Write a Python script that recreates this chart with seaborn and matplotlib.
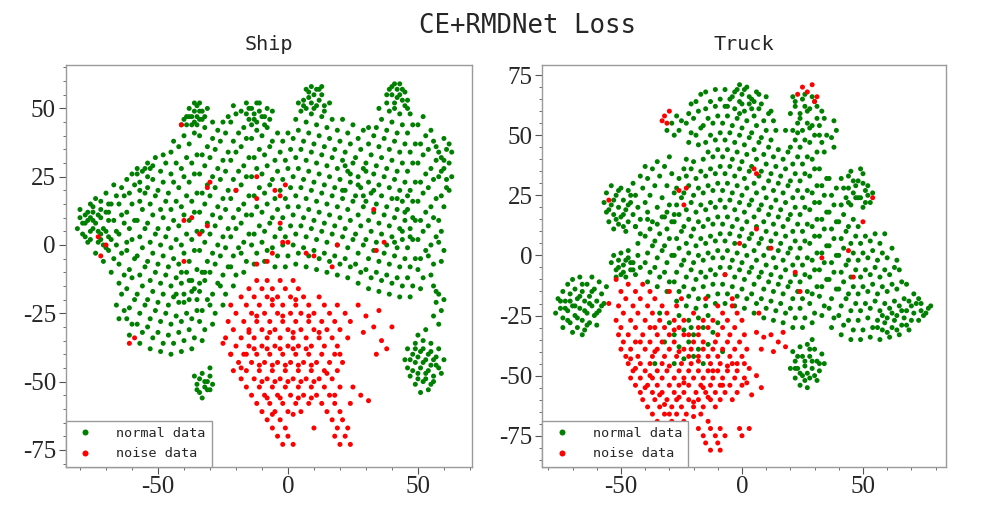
import matplotlib
matplotlib.use("Agg")
import matplotlib.pyplot as plt
from matplotlib.ticker import MultipleLocator
import seaborn as sns
import pandas as pd

# ---------------- data (t-SNE coordinates) ----------------
title_main = "CE+RMDNet Loss"
panel_titles = ["Ship", "Truck"]
labels = ["normal data", "noise data"]
colors = {"normal data": "green", "noise data": "red"}

ship_normal = [
    (-81,6),(-80,10),(-79,4),(-80,13),(-78,8),
    (-77,1),(-76,5),(-78,3),(-77,9),(-75,12),(-78,11),(-76,15),
    (-74,-3),(-73,1),(-75,6),(-74,8),(-72,4),(-73,11),(-75,14),(-74,17),(-72,13),
    (-71,-6),(-70,-1),(-72,2),(-71,6),(-69,9),(-70,12),(-72,16),(-70,19),(-69,3),
    (-68,-10),(-67,-5),(-69,-2),(-68,2),(-66,5),(-67,9),(-69,12),(-68,15),(-66,18),(-67,22),(-66,0),
    (-65,-27),(-63,-24),(-66,-22),(-64,-18),(-65,-14),(-63,-11),(-65,-7),(-64,-3),(-62,1),(-65,4),(-63,8),(-64,11),(-65,15),(-63,18),(-64,21),(-62,24),
    (-61,-33),(-60,-29),(-62,-27),(-61,-23),(-59,-20),(-62,-16),(-60,-12),(-61,-9),(-59,-5),(-62,-2),(-60,2),(-61,6),(-59,9),(-62,12),(-60,15),(-61,19),(-59,22),(-60,26),(-58,28),
    (-57,-36),(-56,-32),(-58,-29),(-57,-25),(-55,-22),(-58,-18),(-56,-15),(-57,-11),(-55,-8),(-58,-4),(-56,-1),(-57,3),(-55,6),(-58,9),(-56,13),(-57,16),(-55,19),(-57,23),(-56,27),(-54,30),
    (-53,-38),(-52,-34),(-54,-30),(-53,-27),(-51,-24),(-54,-20),(-52,-17),(-53,-13),(-51,-10),(-54,-6),(-52,-3),(-53,1),(-51,4),(-54,8),(-52,11),(-53,15),(-51,18),(-54,21),(-52,24),(-53,28),(-51,32),
    (-49,-39),(-48,-36),(-50,-32),(-49,-28),(-47,-25),(-50,-21),(-48,-18),(-49,-14),(-47,-11),(-50,-7),(-48,-4),(-49,0),(-47,3),(-50,6),(-48,10),(-49,13),(-47,16),(-50,20),(-48,23),(-49,27),(-47,30),(-48,33),
    (-45,-40),(-44,-36),(-46,-33),(-45,-29),(-43,-26),(-46,-22),(-44,-19),(-45,-15),(-43,-12),(-46,-8),(-44,-5),(-45,-1),(-43,2),(-46,6),(-44,9),(-45,13),(-43,16),(-46,19),(-44,23),(-45,26),(-43,30),(-45,34),(-44,38),
    (-41,-39),(-40,-35),(-42,-32),(-41,-28),(-39,-25),(-42,-21),(-40,-18),(-41,-14),(-39,-10),(-42,-7),(-40,-3),(-41,0),(-39,4),(-42,7),(-40,11),(-41,14),(-39,18),(-42,21),(-40,25),(-41,28),(-39,32),(-42,36),(-40,40),(-41,44),(-39,47),
    (-37,-38),(-36,-34),(-38,-31),(-37,-27),(-35,-24),(-38,-20),(-36,-16),(-37,-13),(-35,-9),(-38,-6),(-36,-2),(-37,2),(-35,5),(-38,9),(-36,12),(-37,16),(-35,19),(-38,23),(-36,26),(-37,30),(-35,33),(-38,37),(-36,41),(-37,44),(-35,47),(-38,50),(-36,52),(-34,49),
    (-33,-35),(-32,-31),(-34,-28),(-33,-24),(-31,-20),(-34,-17),(-32,-13),(-33,-10),(-31,-6),(-34,-2),(-32,1),(-33,5),(-31,8),(-34,12),(-32,15),(-33,19),(-31,22),(-34,26),(-32,29),(-33,33),(-31,36),(-34,40),(-32,43),(-33,46),(-31,50),(-35,44),
    (-29,-29),(-28,-25),(-30,-22),(-29,-18),(-27,-14),(-30,-10),(-28,-7),(-29,-3),(-27,0),(-30,4),(-28,7),(-29,11),(-27,14),(-30,18),(-28,21),(-29,25),(-27,28),(-30,32),(-28,35),(-29,39),(-27,42),(-29,45),
    (-25,-22),(-24,-18),(-26,-15),(-25,-11),(-23,-8),(-26,-4),(-24,-1),(-25,3),(-23,6),(-26,10),(-24,13),(-25,17),(-23,20),(-26,24),(-24,27),(-25,31),(-23,34),(-26,38),(-24,41),(-25,45),(-23,47),
    (-21,-15),(-20,-11),(-22,-8),(-21,-4),(-19,-1),(-22,3),(-20,6),(-21,10),(-19,13),(-22,17),(-20,20),(-21,24),(-19,27),(-22,31),(-20,34),(-21,38),(-19,41),(-22,45),(-20,48),(-21,51),
    (-17,-10),(-16,-6),(-18,-3),(-17,1),(-15,4),(-18,8),(-16,11),(-17,15),(-15,18),(-18,22),(-16,25),(-17,29),(-15,32),(-18,36),(-16,39),(-17,43),(-15,46),(-18,49),(-16,52),(-14,50),
    (-13,-7),(-12,-3),(-14,0),(-13,4),(-11,7),(-14,11),(-12,14),(-13,18),(-11,21),(-14,25),(-12,28),(-13,32),(-11,35),(-14,39),(-12,42),(-13,46),(-11,49),(-12,52),
    (-9,-6),(-8,-2),(-10,1),(-9,5),(-7,8),(-10,12),(-8,15),(-9,19),(-7,22),(-10,26),(-8,29),(-9,33),(-7,36),(-10,40),(-8,43),(-9,47),
    (-5,-8),(-4,-4),(-6,-1),(-5,3),(-3,6),(-6,10),(-4,13),(-5,17),(-3,20),(-6,24),(-4,27),(-5,31),(-3,34),(-6,38),(-4,41),
    (-1,-8),(0,-4),(-2,0),(-1,3),(1,7),(-2,10),(0,14),(-1,17),(1,21),(-2,24),(0,28),(-1,31),(1,35),(-2,38),(0,41),
    (3,-7),(4,-3),(2,0),(3,4),(5,7),(2,11),(4,14),(3,18),(5,21),(2,25),(4,28),(3,32),(5,35),(2,39),(4,42),(3,46),(5,49),(4,52),
    (7,-8),(8,-4),(6,-1),(7,3),(9,6),(6,10),(8,13),(7,17),(9,20),(6,24),(8,27),(7,31),(9,34),(6,38),(8,41),(7,45),(9,48),(6,51),(8,54),(7,57),
    (11,-9),(12,-5),(10,-2),(11,2),(13,5),(10,9),(12,12),(11,16),(13,19),(10,23),(12,26),(11,30),(13,33),(10,37),(12,40),(11,44),(13,47),(10,50),(12,53),(11,57),(13,55),
    (15,-10),(16,-6),(14,-3),(15,1),(17,4),(14,8),(16,11),(15,15),(17,18),(14,22),(16,25),(15,29),(17,32),(14,36),(16,39),(15,43),(17,46),(14,49),(16,52),
    (19,-11),(20,-7),(18,-4),(19,0),(21,3),(18,7),(20,10),(19,14),(21,17),(18,21),(20,24),(19,28),(21,31),(18,35),(20,38),(19,42),(21,46),
    (23,-12),(24,-8),(22,-5),(23,-1),(25,2),(22,6),(24,9),(23,13),(25,16),(22,20),(24,23),(23,27),(25,30),(22,34),(24,37),(23,41),(25,44),
    (27,-14),(28,-10),(26,-7),(27,-3),(29,0),(26,4),(28,7),(27,11),(29,14),(26,18),(28,21),(27,25),(29,28),(26,32),(28,35),(27,39),(29,42),
    (31,-16),(32,-12),(30,-9),(31,-5),(33,-2),(30,2),(32,5),(31,9),(33,12),(30,16),(32,19),(31,23),(33,26),(30,30),(32,33),(31,37),(33,40),(31,43),
    (35,-17),(36,-13),(34,-10),(35,-6),(37,-3),(34,1),(36,4),(35,8),(37,11),(34,15),(36,18),(35,22),(37,25),(34,29),(36,32),(35,36),(37,39),(34,43),(36,46),(35,50),
    (39,-18),(40,-14),(38,-11),(39,-7),(41,-4),(38,0),(40,3),(39,7),(41,10),(38,14),(40,17),(39,21),(41,24),(38,28),(40,31),(39,35),(41,38),(38,42),(40,45),(39,49),(41,52),(38,55),(40,58),
    (43,-19),(44,-15),(42,-12),(43,-8),(45,-5),(42,-1),(44,2),(43,6),(45,9),(42,13),(44,16),(43,20),(45,23),(42,27),(44,30),(43,34),(45,37),(42,41),(44,44),(43,48),(45,51),(42,54),(44,57),(43,59),
    (47,-19),(48,-15),(46,-12),(47,-8),(49,-5),(46,-1),(48,2),(47,6),(49,9),(46,13),(48,16),(47,20),(49,23),(46,27),(48,30),(47,34),(49,37),(46,41),(48,44),(47,48),(46,53),
    (51,-16),(52,-12),(50,-9),(51,-5),(53,-2),(50,2),(52,5),(51,9),(53,12),(50,16),(52,19),(51,23),(53,26),(50,30),(52,33),(51,37),(53,40),(50,44),(52,47),
    (55,-11),(56,-7),(54,-4),(55,0),(57,3),(54,7),(56,10),(55,14),(57,17),(54,21),(56,24),(55,28),(57,31),(54,35),(56,38),(55,42),
    (59,-6),(60,-2),(58,1),(59,5),(58,9),(60,14),(59,18),(61,21),(58,25),(60,28),(59,32),(61,35),(60,39),
    (62,20),(63,25),(62,30),(63,34),
    (56,-15),(58,-18),(57,-21),(59,-24),(56,-26),(58,-29),(60,-20),(57,-17),
    (46,-38),(49,-36),(52,-35),(55,-36),(58,-38),(45,-42),(48,-40),(51,-39),(54,-40),(57,-41),(60,-42),
    (46,-45),(49,-43),(52,-43),(55,-44),(58,-45),(47,-48),(50,-47),(53,-47),(56,-48),(59,-47),
    (49,-51),(52,-50),(55,-51),(51,-54),(54,-53),(50,-33),(53,-31),
    (-36,-48),(-33,-47),(-30,-48),(-35,-51),(-32,-50),(-29,-51),(-34,-54),(-31,-53),(-33,-56),(-30,-45),
    # denser clumps
    (-79,8),(-77,12),(-76,2),(-75,9),(-73,5),(-72,10),(-71,0),(-70,5),(-69,15),(-76,10),
    (-39,44),(-37,47),(-36,49),(-35,51),(-34,46),(-33,49),(-32,47),(-36,45),(-38,47),(-34,52),(-40,46),
    (-15,50),(-13,48),(-11,52),(-10,47),(-14,44),(-8,50),(-9,44),(-12,45),(-16,48),(-7,46),(-6,49),
    (8,56),(9,52),(10,55),(12,57),(14,51),(6,53),(11,51),(13,58),(9,58),(7,50),
    (40,55),(42,57),(41,50),(44,53),(39,57),(43,55),(45,56),(46,50),(38,52),(41,59),
    (58,34),(60,31),(59,27),(61,24),(62,37),(57,36),
    (47,-42),(50,-41),(53,-42),(56,-42),(48,-46),(51,-45),(54,-46),(57,-44),(50,-49),(53,-49),(56,-50),(52,-38),(55,-39),(49,-38),
    (-34,-49),(-31,-50),(-32,-52),(-35,-53),(-30,-53),
    (-58,26),(-55,28),(-52,29),(-57,20),(-54,25),
    (-43,-18),(-40,-21),(-37,-17),(-34,-14),(-41,-10),(-38,-13),(-35,-20),(-32,-10),
    (21,20),(24,26),(27,22),(30,27),(33,20),(22,29),(29,18),
    (41,1),(44,5),(47,3),(45,12),(48,10),(42,17),(46,18),
]

ship_noise = [
    (-12,-13),(-8,-13),(-3,-13),(2,-13),
    (-15,-16),(-10,-16),(-6,-16),(-1,-16),(4,-16),
    (-18,-19),(-13,-19),(-8,-19),(-4,-19),(1,-19),(6,-19),(12,-19),
    (-22,-22),(-16,-22),(-11,-22),(-6,-22),(-2,-22),(3,-22),(8,-22),(14,-22),(19,-22),
    (-20,-25),(-14,-25),(-9,-25),(-4,-25),(1,-25),(5,-25),(10,-25),(16,-25),(22,-25),
    (-23,-28),(-17,-28),(-12,-28),(-7,-28),(-2,-28),(3,-28),(8,-28),(13,-28),(18,-28),(24,-28),
    (-21,-31),(-15,-31),(-10,-31),(-5,-31),(0,-31),(5,-31),(10,-31),(15,-31),(20,-31),
    (-24,-34),(-18,-34),(-13,-34),(-8,-34),(-3,-34),(2,-34),(7,-34),(12,-34),(17,-34),(23,-34),
    (-20,-37),(-15,-37),(-10,-37),(-5,-37),(0,-37),(4,-37),(9,-37),(14,-37),(19,-37),
    (-22,-40),(-17,-40),(-12,-40),(-7,-40),(-2,-40),(3,-40),(8,-40),(13,-40),(18,-40),
    (-19,-43),(-14,-43),(-9,-43),(-4,-43),(1,-43),(6,-43),(11,-43),(16,-43),(21,-43),
    (-21,-46),(-16,-46),(-11,-46),(-6,-46),(-1,-46),(4,-46),(9,-46),(14,-46),(19,-46),
    (-18,-49),(-13,-49),(-8,-49),(-3,-49),(2,-49),(7,-49),(12,-49),(17,-49),
    (-16,-52),(-11,-52),(-6,-52),(-1,-52),(4,-52),(9,-52),(14,-52),(20,-52),
    (-14,-55),(-9,-55),(-4,-55),(1,-55),(6,-55),(11,-55),(16,-55),
    (-12,-58),(-7,-58),(-2,-58),(3,-58),(8,-58),(13,-58),(18,-58),
    (-10,-61),(-5,-61),(0,-61),(5,-61),(15,-61),(20,-61),
    (-8,-64),(-3,-64),(17,-64),(21,-64),
    (-6,-67),(-1,-67),(10,-67),(19,-67),(23,-67),
    (-4,-70),(0,-70),(18,-70),(22,-70),
    (-2,-73),(2,-73),(20,-73),(24,-73),
    (27,-22),(30,-26),(33,-30),(35,-24),(29,-32),(36,-35),(34,-40),(38,-38),(40,-30),
    (25,-52),(28,-55),(31,-57),(24,-58),(-25,-36),(-22,-40),
    (-61,-36),(-59,-34),(-73,3),(-70,0),(-72,-4),
    (-41,44),(-30,23),(-31,21),(-20,20),(-12,25),(-12,17),(-40,9),(-37,10),(-31,7),(-34,4),
    (-40,-6),(-12,-7),(-8,-6),(-5,20),(-1,22),(-3,18),(-3,8),(33,13),(-2,1),(0,1),
    (19,0),(37,1),(34,-2),(-6,-3),(7,-3),(10,-4),(17,-8),
    # denser core
    (-13,-38),(-8,-38),(-3,-38),(2,-38),(7,-38),(-11,-44),(-6,-44),(-1,-44),(4,-44),(9,-44),
    (-10,-50),(-5,-50),(0,-50),(5,-50),(10,-50),(-15,-32),(-7,-32),(2,-32),(12,-32),
    (-12,-26),(-2,-26),(8,-26),(-6,-20),(3,-20),(-8,-56),(-3,-56),(4,-56),(9,-56),
    (-6,-62),(2,-62),(18,-55),(15,-47),(20,-40),(-18,-45),(-16,-40),
]

truck_normal = [
    (-76,-18),(-75,-22),(-74,-15),(-74,-26),(-73,-19),(-72,-23),(-72,-12),(-71,-28),(-71,-16),(-70,-21),
    (-70,-10),(-69,-25),(-69,-14),(-68,-30),(-68,-18),(-67,-22),(-67,-9),(-66,-27),(-66,-15),(-65,-19),
    (-65,-31),(-64,-24),(-64,-12),(-63,-17),(-63,-28),(-62,-21),(-62,-9),(-61,-14),(-61,-25),(-60,-19),
    (-59,-11),(-59,-23),(-58,-16),(-57,-20),(-56,-13),(-74,-30),(-77,-24),(-66,-33),(-60,-29),(-70,-32),
    (-54,-3),(-53,0),(-52,-6),(-51,-2),(-50,-8),(-50,1),(-49,-4),(-48,-9),(-47,-1),(-46,-6),
    (-45,-3),(-44,-8),(-43,0),(-42,-5),(-52,-9),(-47,2),
    (-57,22),(-56,18),(-56,26),(-55,14),(-54,21),(-54,29),(-53,11),(-53,17),(-52,25),(-51,20),
    (-51,13),(-50,28),(-50,16),(-49,23),(-48,10),(-48,19),(-47,27),(-47,14),(-46,22),(-45,17),
    (-45,30),(-44,12),(-44,25),(-43,20),(-42,33),(-42,15),(-41,28),(-40,22),(-40,37),(-39,18),
    (-39,32),(-38,25),(-37,14),(-37,36),(-36,29),(-35,20),(-35,39),(-34,33),(-33,24),(-32,16),
    (-32,37),(-31,29),(-30,21),(-30,41),(-29,34),(-28,26),(-28,17),
    (-43,5),(-42,9),(-44,12),
    (-39,-11),(-38,-7),(-40,-3),(-39,1),(-37,4),(-40,8),(-38,11),(-39,15),
    (-35,-13),(-34,-9),(-36,-5),(-35,-1),(-33,2),(-36,6),(-34,9),(-35,13),(-33,16),
    (-31,-15),(-30,-11),(-32,-7),(-31,-3),(-29,0),(-32,4),(-30,7),(-31,11),(-29,14),(-31,18),
    (-27,-19),(-26,-15),(-28,-11),(-27,-7),(-25,-4),(-28,0),(-26,3),(-27,7),(-25,10),(-28,14),
    (-26,17),(-27,21),(-25,24),(-27,28),(-26,32),(-24,36),
    (-23,-21),(-22,-17),(-24,-13),(-23,-9),(-21,-6),(-24,-2),(-22,1),(-23,5),(-21,8),(-24,12),
    (-22,15),(-23,19),(-21,22),(-24,26),(-22,29),(-23,33),(-21,36),(-23,40),(-22,47),(-21,51),
    (-23,55),(-22,59),(-21,63),(-26,52),(-29,55),(-27,58),(-31,52),(-25,56),(-28,50),
    (-19,-22),(-18,-18),(-20,-14),(-19,-10),(-17,-7),(-20,-3),(-18,0),(-19,4),(-17,7),(-20,11),
    (-18,14),(-19,18),(-17,21),(-20,25),(-18,28),(-19,32),(-17,35),(-20,39),(-18,46),(-19,50),
    (-17,53),(-20,57),(-18,60),(-19,64),(-17,67),
    (-15,-21),(-14,-17),(-16,-13),(-15,-9),(-13,-6),(-16,-2),(-14,1),(-15,5),(-13,8),(-16,12),
    (-14,15),(-15,19),(-13,22),(-16,26),(-14,29),(-15,33),(-13,36),(-16,40),(-14,43),(-15,47),
    (-13,50),(-16,54),(-14,57),(-15,61),(-13,64),(-15,68),
    (-11,-20),(-10,-16),(-12,-12),(-11,-8),(-9,-5),(-12,-1),(-10,2),(-11,6),(-9,9),(-12,13),
    (-10,16),(-11,20),(-9,23),(-12,27),(-10,30),(-11,34),(-9,37),(-12,41),(-10,44),(-11,48),
    (-9,51),(-12,55),(-10,58),(-11,62),(-9,65),(-11,69),
    (-7,-20),(-6,-16),(-8,-12),(-7,-8),(-5,-5),(-8,-1),(-6,2),(-7,6),(-5,9),(-8,13),
    (-6,16),(-7,20),(-5,23),(-8,27),(-6,30),(-7,34),(-5,37),(-8,41),(-6,44),(-7,48),
    (-5,51),(-8,55),(-6,58),(-7,62),(-5,65),(-7,69),
    (-3,-21),(-2,-17),(-4,-13),(-3,-9),(-1,-6),(-4,-2),(-2,1),(-3,5),(-1,8),(-4,12),
    (-2,15),(-3,19),(-1,22),(-4,26),(-2,29),(-3,33),(-1,36),(-4,40),(-2,43),(-3,47),
    (-1,50),(-4,54),(-2,57),(-3,61),(-1,64),(-3,68),(-1,71),
    (1,-22),(2,-18),(0,-14),(1,-10),(3,-7),(0,-3),(2,0),(1,4),(3,7),(0,11),
    (2,14),(1,18),(3,21),(0,25),(2,28),(1,32),(3,35),(0,39),(2,42),(1,46),
    (3,49),(0,53),(2,56),(1,60),(3,63),(0,67),(2,70),
    (5,-24),(6,-20),(4,-16),(5,-12),(7,-9),(4,-5),(6,-2),(5,2),(7,5),(4,9),
    (6,12),(5,16),(7,19),(4,23),(6,26),(5,30),(7,33),(4,37),(6,40),(5,44),
    (7,47),(4,51),(6,54),(5,58),(7,61),(4,65),(6,68),
    (9,-26),(10,-22),(8,-18),(9,-14),(11,-11),(8,-7),(10,-4),(9,0),(11,3),(8,7),
    (10,10),(9,14),(11,17),(8,21),(10,24),(9,28),(11,31),(8,35),(10,38),(9,42),
    (11,45),(8,49),(10,52),(9,56),(11,59),(8,63),(10,66),
    (13,-27),(14,-23),(12,-19),(13,-15),(15,-12),(12,-8),(14,-5),(13,-1),(15,2),(12,6),
    (14,9),(13,13),(15,16),(12,20),(14,23),(13,27),(15,30),(12,34),(14,37),(13,41),
    (15,44),(12,48),(14,52),(13,56),(12,60),
    (17,-28),(18,-24),(16,-20),(17,-16),(19,-13),(16,-9),(18,-6),(17,-2),(19,1),(16,5),
    (18,8),(17,12),(19,15),(16,19),(18,22),(17,26),(19,29),(16,33),(18,36),(17,40),
    (19,43),(18,52),
    (21,-30),(22,-26),(20,-22),(21,-18),(23,-15),(20,-11),(22,-8),(21,-4),(23,-1),(20,3),
    (22,6),(21,10),(23,13),(20,17),(22,20),(21,24),(23,27),(20,31),(22,34),(21,38),
    (23,41),(20,45),(22,48),(21,52),(23,55),(20,59),(22,62),(21,66),
    (25,-30),(26,-26),(24,-22),(25,-18),(27,-15),(24,-11),(26,-8),(25,-4),(27,-1),(24,3),
    (26,6),(25,10),(27,13),(24,17),(26,20),(25,24),(27,27),(24,31),(26,34),(25,38),
    (27,41),(24,45),(26,48),(25,52),(27,55),(24,59),(26,62),(25,65),
    (29,-28),(30,-24),(28,-20),(29,-16),(31,-13),(28,-9),(30,-6),(29,-2),(31,1),(28,5),
    (30,8),(29,12),(31,15),(28,19),(30,22),(29,26),(31,29),(28,33),(30,36),(29,40),
    (31,43),(28,47),(30,50),(29,54),(31,57),(28,61),(30,64),
    (33,-25),(34,-21),(32,-17),(33,-13),(35,-10),(32,-6),(34,-3),(33,1),(35,4),(32,8),
    (34,11),(33,15),(35,18),(32,22),(34,25),(33,29),(35,32),(32,36),(34,43),(33,47),
    (35,50),(32,54),(34,57),(33,60),
    (37,-30),(38,-26),(36,-22),(37,-18),(39,-14),(36,-10),(38,-7),(37,-3),(39,0),(36,4),
    (38,7),(37,11),(39,14),(36,18),(38,21),(37,25),(39,28),(36,32),(38,45),(37,49),
    (39,52),(38,56),
    (41,-33),(42,-29),(40,-25),(41,-21),(43,-18),(40,-14),(42,-11),(41,-7),(43,-4),(40,0),
    (42,3),(41,7),(43,10),(40,14),(42,17),(41,21),(43,24),(42,28),(41,32),
    (45,-35),(46,-31),(44,-27),(45,-23),(47,-20),(44,-16),(46,-13),(45,-9),(47,-6),(44,-2),
    (46,1),(45,5),(47,8),(44,12),(46,15),(45,21),(47,24),(44,28),(46,31),(45,35),
    (49,-35),(50,-31),(48,-27),(49,-23),(51,-20),(48,-16),(50,-13),(49,-9),(51,-6),(48,-2),
    (50,1),(49,5),(51,8),(48,12),(50,20),(49,24),(51,27),(48,31),(50,34),
    (53,-34),(54,-30),(52,-26),(53,-22),(55,-19),(52,-15),(54,-12),(53,-8),(55,-5),(52,-1),
    (54,2),(53,6),(55,9),(53,22),(54,26),(52,29),
    (57,-35),(58,-31),(56,-27),(57,-23),(59,-20),(56,-16),(58,-13),(57,-9),(59,-6),(56,-2),
    (58,1),(57,5),(59,9),
    (61,-34),(62,-30),(60,-26),(61,-22),(63,-19),(60,-15),(62,-12),(61,-8),(63,-5),(60,-1),(62,3),
    (65,-33),(66,-29),(64,-25),(65,-21),(67,-18),(64,-14),(66,-11),(65,-6),(64,-2),
    (69,-31),(70,-27),(68,-23),(69,-19),(71,-16),(68,-12),
    (73,-27),(74,-23),(72,-20),(75,-25),(73,-18),(77,-22),(76,-24),(78,-21),
    (21,-40),(24,-38),(27,-37),(30,-39),(33,-41),(22,-44),(25,-42),(28,-42),(31,-44),(34,-45),
    (20,-47),(23,-47),(26,-46),(29,-47),(32,-48),(22,-51),(25,-50),(28,-51),(31,-52),(24,-54),
    (27,-55),(29,-35),
    (-34,-24),(-30,-28),(-26,-25),(-22,-27),(-18,-26),(-14,-25),(-28,-33),(-24,-31),(-20,-33),(-16,-30),
    (-12,-32),(-26,-38),(-22,-36),(-18,-39),(-14,-37),(-24,-43),(-20,-42),(-16,-45),(-32,-36),(-10,-28),
    (-8,-40),(-36,-45),(-28,-45),(-21,-30),
    # denser clumps
    (-73,-22),(-71,-19),(-69,-21),(-67,-17),(-65,-23),(-63,-20),(-68,-26),(-66,-12),(-62,-15),(-72,-27),
    (-64,-29),(-60,-24),(-58,-21),(-75,-19),
    (23,-42),(26,-44),(29,-44),(32,-45),(24,-49),(27,-49),(30,-50),(26,-52),(28,-39),(22,-47),
    (59,-28),(63,-27),(67,-26),(71,-24),(60,-32),(64,-31),(68,-29),(56,-30),(62,-24),(66,-23),
    (70,-21),(74,-20),(58,-25),
    (-4,66),(-2,69),(0,63),(1,69),(3,66),(5,64),(7,67),(-1,59),(4,61),(-6,62),
    (44,22),(46,26),(48,24),(47,29),(50,30),(52,25),(51,22),(44,33),(49,36),
    (22,64),(24,57),(27,60),(29,66),(31,62),(26,67),(23,51),(28,53),(32,50),
    (-53,23),(-51,27),(-49,17),(-47,21),(-52,15),(-46,25),(-55,19),(-49,12),
    (-51,-5),(-48,-2),(-46,-3),(-49,-7),(-45,-6),
]

truck_noise = [
    (-47,-12),(-41,-12),
    (-50,-15),(-44,-15),(-38,-15),(-30,-15),
    (-48,-18),(-42,-18),(-36,-18),(-25,-18),(-15,-18),
    (-51,-21),(-45,-21),(-39,-21),(-33,-21),(-27,-21),(-10,-21),(-4,-21),
    (-49,-24),(-43,-24),(-37,-24),(-31,-24),(-20,-24),(-8,-24),(-2,-24),
    (-52,-27),(-46,-27),(-40,-27),(-34,-27),(-28,-27),(-24,-27),(-16,-27),(-12,-27),(-6,-27),(0,-27),
    (-50,-30),(-44,-30),(-38,-30),(-32,-30),(-26,-30),(-18,-30),(-14,-30),(-8,-30),(-3,-30),
    (-51,-33),(-47,-33),(-41,-33),(-35,-33),(-30,-33),(-24,-33),(-18,-33),(-10,-33),(-5,-33),(1,-33),
    (-49,-36),(-44,-36),(-38,-36),(-33,-36),(-28,-36),(-20,-36),(-16,-36),(-11,-36),(-6,-36),(-1,-36),
    (-50,-39),(-46,-39),(-40,-39),(-35,-39),(-30,-39),(-24,-39),(-21,-39),(-16,-39),(-12,-39),(-8,-39),(-3,-39),(2,-39),
    (-48,-42),(-43,-42),(-37,-42),(-32,-42),(-27,-42),(-22,-42),(-18,-42),(-14,-42),(-10,-42),(-5,-42),(0,-42),
    (-47,-45),(-42,-45),(-38,-45),(-33,-45),(-25,-45),(-21,-45),(-13,-45),(-9,-45),(-4,-45),(1,-45),
    (-45,-48),(-40,-48),(-35,-48),(-31,-48),(-26,-48),(-22,-48),(-18,-48),(-14,-48),(-10,-48),(-6,-48),(-2,-48),
    (-46,-51),(-42,-51),(-37,-51),(-33,-51),(-28,-51),(-24,-51),(-20,-51),(-16,-51),(-12,-51),(-8,-51),(-3,-51),(1,-51),
    (-44,-54),(-39,-54),(-35,-54),(-30,-54),(-26,-54),(-22,-54),(-17,-54),(-13,-54),(-9,-54),(-5,-54),(0,-54),
    (-42,-57),(-37,-57),(-33,-57),(-28,-57),(-24,-57),(-19,-57),(-15,-57),(-11,-57),(-7,-57),(-2,-57),
    (-41,-60),(-36,-60),(-31,-60),(-27,-60),(-22,-60),(-18,-60),(-13,-60),(-9,-60),(-4,-60),
    (-39,-63),(-34,-63),(-29,-63),(-25,-63),(-20,-63),(-16,-63),(-11,-63),
    (-37,-66),(-32,-66),(-27,-66),(-23,-66),(-17,-66),
    (-35,-69),(-29,-69),(-24,-69),(-14,-69),
    (-18,-72),(-13,-72),(-9,-72),(-1,-72),(3,-72),
    (-16,-75),(-11,-75),(-7,-75),(0,-75),
    (-15,-78),(-10,-78),(-13,-81),(-9,-81),
    (6,-32),(9,-34),(12,-33),(15,-36),(18,-38),(8,-39),(13,-40),(17,-32),(3,-47),(6,-50),
    (2,-53),(8,-55),(4,-58),(7,-24),(22,-7),(24,-15),(46,-9),(5,36),(6,34),(54,24),
    (50,14),(6,11),(12,3),(33,-1),(44,2),(-1,5),(-26,27),(-23,28),(-24,21),(-55,23),
    (-32,58),(-31,55),(-30,60),(-33,56),(23,67),(25,70),(27,68),(29,71),(30,64),(31,66),
    (-4,-18),(-52,-10),(-55,-20),(-7,-8),
    # denser core
    (-36,-30),(-28,-31),(-22,-33),(-42,-36),(-36,-40),(-26,-40),(-18,-44),(-44,-47),(-38,-50),(-30,-46),
    (-24,-53),(-16,-55),(-34,-58),(-26,-59),(-40,-55),(-20,-61),(-32,-62),(-12,-48),(-6,-46),(-8,-54),
    (-46,-43),(-30,-66),(-20,-67),(-14,-59),(-2,-45),
]

panels = [
    (panel_titles[0], ship_normal, ship_noise, (-85.5, 70.8), (-81.1, 65.9)),
    (panel_titles[1], truck_normal, truck_noise, (-82.5, 84.3), (-87.8, 79.2)),
]

# ---------------- style ----------------
sns.set_theme(style="white")
plt.rcParams['font.family'] = ['DejaVu Sans Mono']
plt.rcParams['axes.unicode_minus'] = False

fig = plt.figure(figsize=(10, 5.25), dpi=100)
axes = [fig.add_axes([0.0657, 0.1114, 0.4063, 0.7648]),
        fig.add_axes([0.5423, 0.1114, 0.4037, 0.7648])]

for ax, (name, normal, noise, xl, yl) in zip(axes, panels):
    df = pd.concat([
        pd.DataFrame(normal, columns=["x", "y"]).assign(label=labels[0]),
        pd.DataFrame(noise, columns=["x", "y"]).assign(label=labels[1]),
    ], ignore_index=True)
    sns.scatterplot(data=df, x="x", y="y", hue="label", hue_order=labels,
                    palette=colors, s=13, linewidth=0, ax=ax, legend=True)
    ax.set_xlim(*xl)
    ax.set_ylim(*yl)
    ax.set_xlabel("")
    ax.set_ylabel("")
    ax.set_title(name, fontsize=14.5, pad=11, family=['DejaVu Sans Mono'])
    ax.xaxis.set_major_locator(MultipleLocator(50))
    ax.xaxis.set_minor_locator(MultipleLocator(10))
    ax.yaxis.set_major_locator(MultipleLocator(25))
    ax.yaxis.set_minor_locator(MultipleLocator(5))
    ax.tick_params(which="major", direction="out", length=5, width=0.8,
                   color="#555555", labelsize=18, pad=2,
                   labelfontfamily="Liberation Serif", bottom=True, left=True)
    ax.tick_params(which="minor", direction="out", length=2.5, width=0.6,
                   color="#555555", bottom=True, left=True)
    for sp in ax.spines.values():
        sp.set_color("#9a9a9a")
        sp.set_linewidth(1.0)
        sp.set_visible(True)
    handles, lbls = ax.get_legend_handles_labels()
    leg = ax.legend(handles, lbls, loc="lower left", borderaxespad=0,
                    fancybox=False, framealpha=1, edgecolor="#9a9a9a",
                    markerscale=1.2, handletextpad=1.3, handlelength=2.0,
                    borderpad=0.45, labelspacing=0.55,
                    prop={"family": "DejaVu Sans Mono", "size": 9.7})
    leg.get_frame().set_linewidth(1.0)

fig.text(0.5275, 1 - 33 / 525, title_main, ha="center", va="baseline",
         fontsize=18.5, family=['DejaVu Sans Mono'])

fig.savefig("out.png", dpi=100)
